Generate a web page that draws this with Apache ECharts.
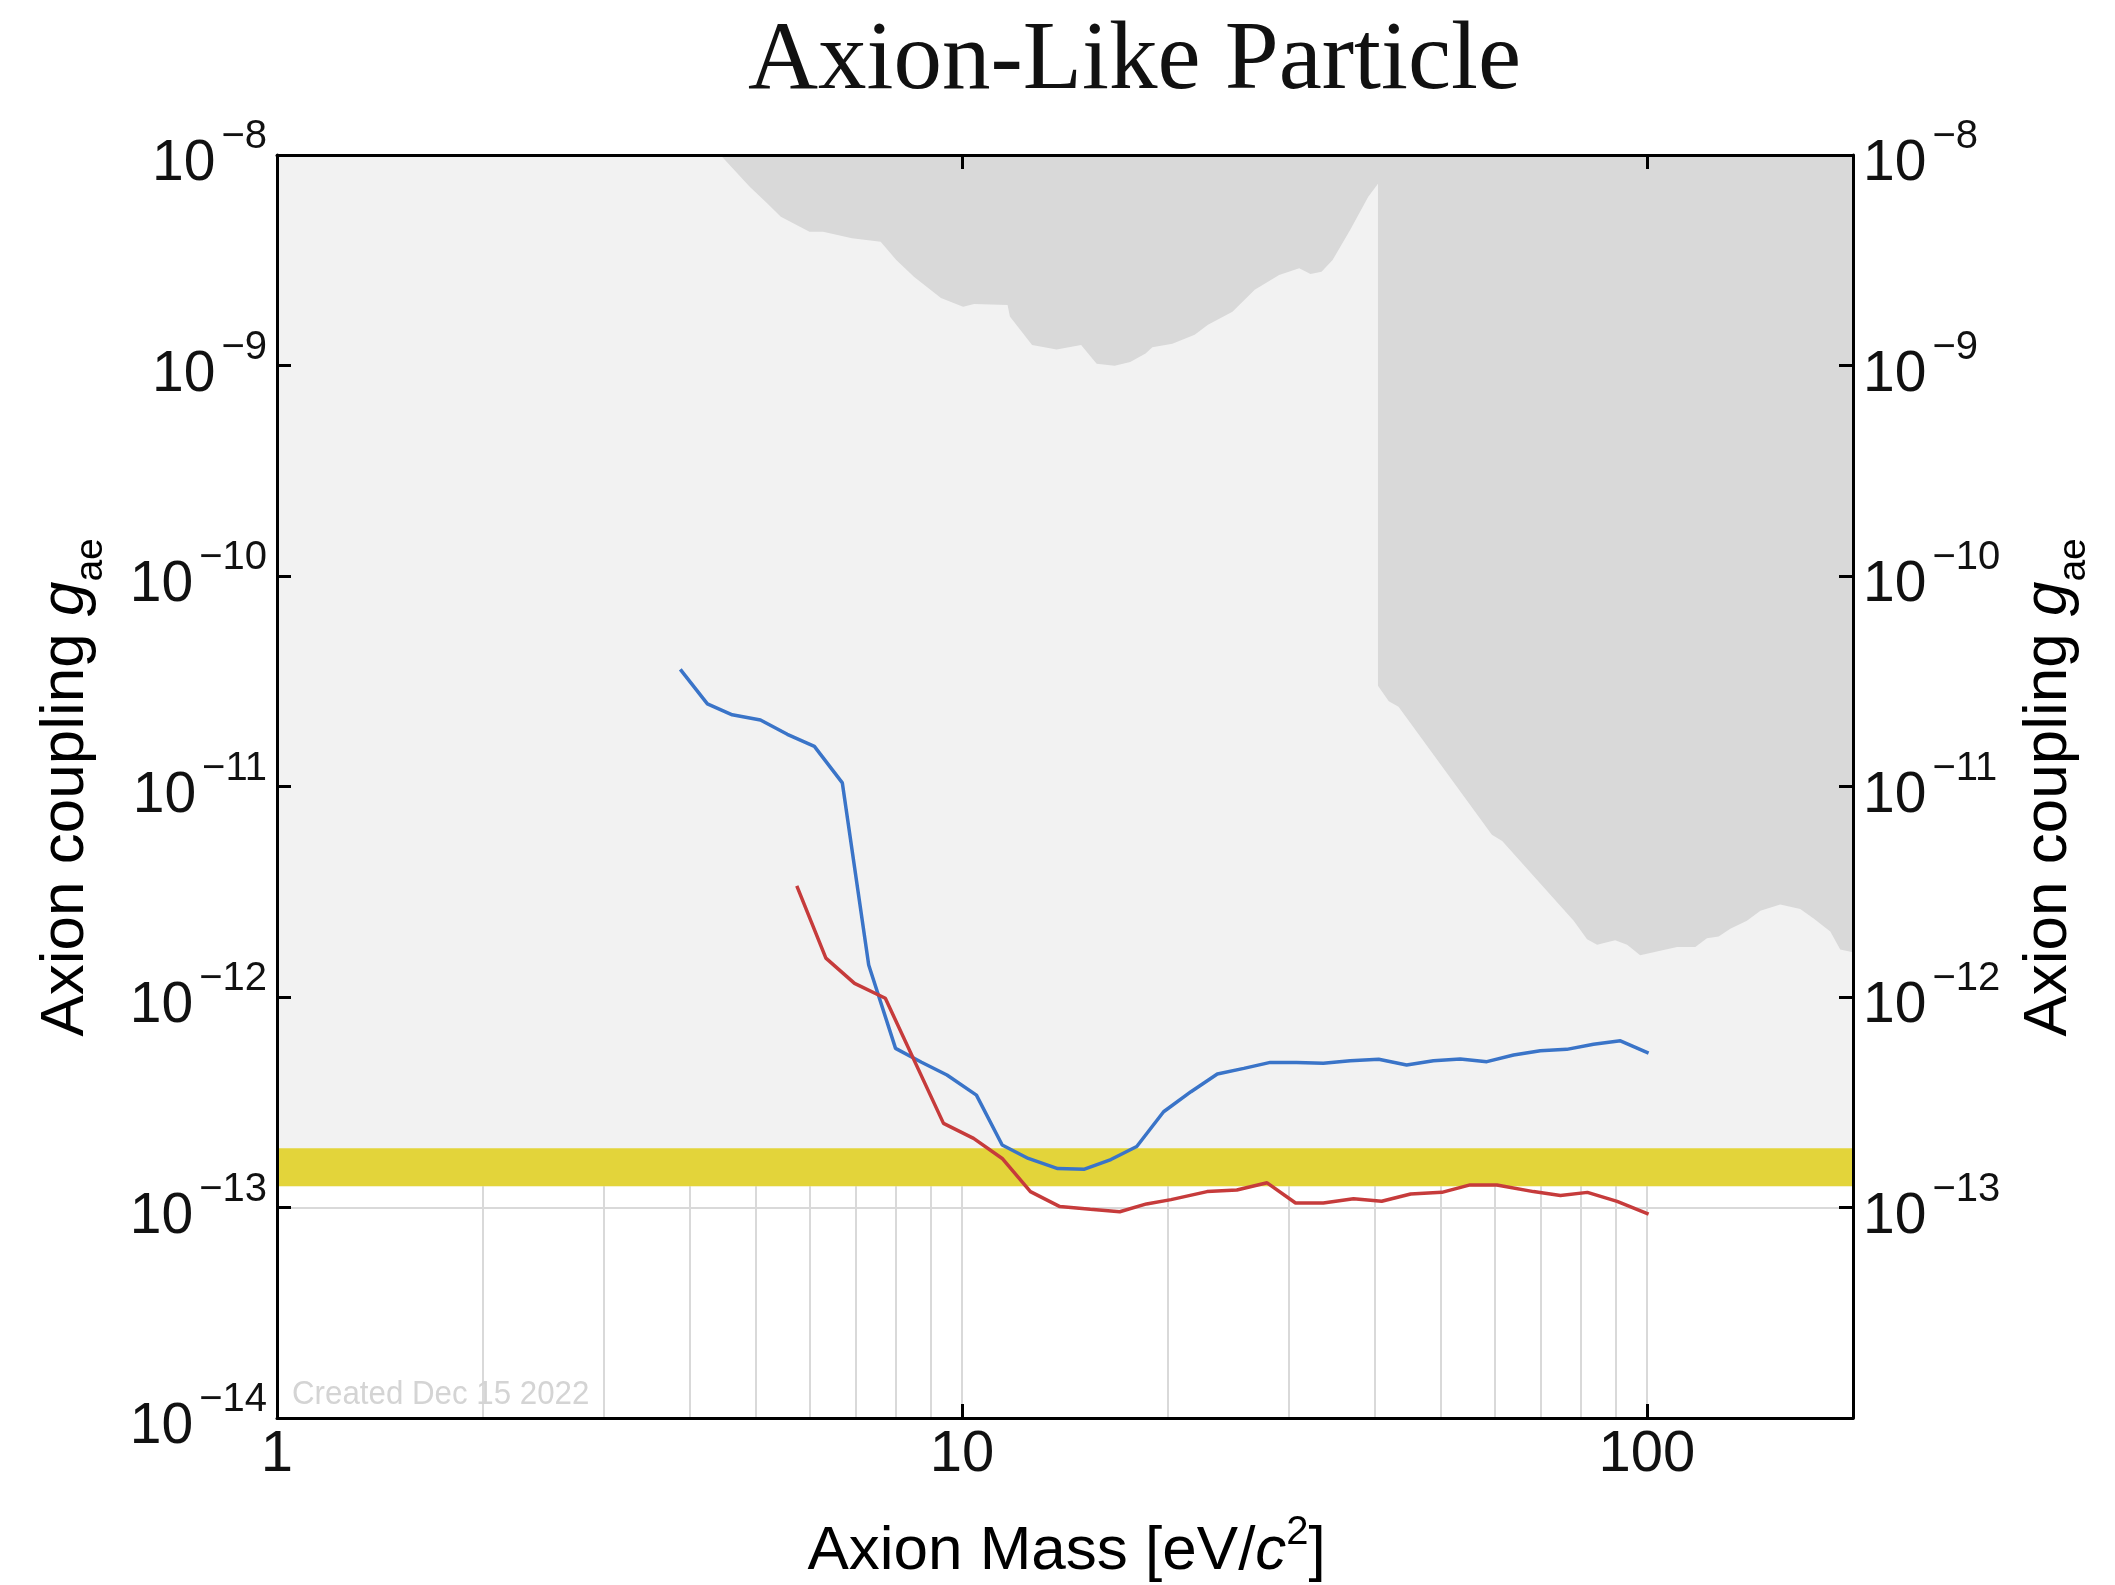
<!DOCTYPE html>
<html><head><meta charset="utf-8">
<script src="https://cdn.jsdelivr.net/npm/echarts@6/dist/echarts.min.js"></script>
<style>html,body{margin:0;padding:0;background:#fff}#c{width:2115px;height:1585px}</style>
</head><body><div id="c"></div>
<script>
// ---------- data (mass in eV/c^2, coupling g_ae) ----------
const massRange = [1, 200];
const couplingRange = [1e-14, 1e-8];
const massTickLabels = [1, 10, 100];
const gridMasses = [2, 3, 4, 5, 6, 7, 8, 9, 10, 20, 30, 40, 50, 60, 70, 80, 90, 100];
const yellowBand = [1.26e-13, 1.91e-13];
const lightRegionLow = 1.26e-13;

const blueLimit = [
  [3.88, 3.60e-11], [4.25, 2.47e-11], [4.62, 2.19e-11], [5.08, 2.07e-11], [5.56, 1.77e-11],
  [6.09, 1.55e-11], [6.69, 1.04e-11], [7.31, 1.42e-12], [8.0, 5.7e-13], [8.73, 4.9e-13],
  [9.51, 4.26e-13], [10.5, 3.42e-13], [11.45, 1.98e-13], [12.5, 1.71e-13], [13.8, 1.53e-13],
  [15.1, 1.52e-13], [16.5, 1.69e-13], [18.0, 1.95e-13], [19.7, 2.85e-13], [21.6, 3.55e-13],
  [23.6, 4.31e-13], [25.8, 4.58e-13], [28.2, 4.89e-13], [30.8, 4.88e-13], [33.7, 4.84e-13],
  [36.9, 4.98e-13], [40.6, 5.06e-13], [44.6, 4.75e-13], [48.8, 4.98e-13], [53.4, 5.07e-13],
  [58.4, 4.93e-13], [63.9, 5.30e-13], [69.9, 5.55e-13], [76.4, 5.64e-13], [83.6, 5.96e-13],
  [91.5, 6.19e-13], [100.6, 5.41e-13]
];

const redLimit = [
  [5.74, 3.37e-12], [6.33, 1.53e-12], [6.97, 1.16e-12], [7.73, 9.86e-13], [9.40, 2.51e-13],
  [10.4, 2.13e-13], [11.45, 1.71e-13], [12.59, 1.19e-13], [13.9, 1.01e-13], [15.4, 9.8e-14],
  [17.0, 9.55e-14], [18.6, 1.04e-13], [20.2, 1.09e-13], [22.8, 1.19e-13], [25.2, 1.21e-13],
  [27.9, 1.31e-13], [30.7, 1.05e-13], [33.7, 1.05e-13], [37.3, 1.10e-13], [41.0, 1.07e-13],
  [45.2, 1.16e-13], [50.2, 1.18e-13], [55.2, 1.28e-13], [60.4, 1.28e-13], [68.3, 1.19e-13],
  [74.8, 1.14e-13], [81.9, 1.18e-13], [90.5, 1.07e-13], [100.6, 9.3e-14]
];

// lower edge of the excluded region hanging from the top (left to right)
const darkTopEdge = [
  [4.44, 1e-8], [4.90, 7.07e-9], [5.20, 5.89e-9], [5.44, 5.09e-9], [5.99, 4.32e-9],
  [6.27, 4.32e-9], [6.91, 4.02e-9], [7.61, 3.87e-9], [8.02, 3.17e-9], [8.51, 2.64e-9],
  [9.32, 2.09e-9], [10.04, 1.90e-9], [10.42, 1.96e-9], [11.66, 1.94e-9], [11.75, 1.71e-9],
  [12.66, 1.25e-9], [13.75, 1.19e-9], [14.93, 1.25e-9], [15.73, 1.02e-9], [16.71, 9.96e-10],
  [17.61, 1.04e-9], [18.54, 1.14e-9], [18.97, 1.22e-9], [20.29, 1.27e-9], [21.87, 1.40e-9],
  [22.87, 1.56e-9], [24.83, 1.80e-9], [26.76, 2.29e-9], [29.05, 2.69e-9], [31.08, 2.90e-9],
  [32.28, 2.72e-9], [33.5, 2.79e-9], [34.77, 3.17e-9], [36.9, 4.41e-9], [39.2, 6.33e-9],
  [40.5, 7.3e-9]
];
// lower edge of the large excluded region on the right (left to right)
const darkRightEdge = [
  [40.5, 3.01e-11], [42.0, 2.54e-11], [43.4, 2.39e-11], [59.4, 5.90e-12], [61.5, 5.51e-12],
  [78.2, 2.30e-12], [81.8, 1.88e-12], [84.6, 1.77e-12], [89.9, 1.86e-12], [93.6, 1.77e-12],
  [97.8, 1.58e-12], [102.3, 1.63e-12], [110.7, 1.73e-12], [117.7, 1.73e-12], [122.4, 1.90e-12],
  [127.3, 1.94e-12], [132.4, 2.11e-12], [140.0, 2.30e-12], [146.5, 2.57e-12], [156.6, 2.75e-12],
  [167.5, 2.62e-12], [175.2, 2.36e-12], [185.3, 2.05e-12], [191.6, 1.68e-12], [200, 1.63e-12]
];

// ---------- build ----------
const xMin = massRange[0], xMax = massRange[1], yMin = couplingRange[0], yMax = couplingRange[1];
const lightPoly = [[xMin, lightRegionLow], [xMax, lightRegionLow], [xMax, yMax], [xMin, yMax]];
const yellowPoly = [[xMin, yellowBand[0]], [xMax, yellowBand[0]], [xMax, yellowBand[1]], [xMin, yellowBand[1]]];
const darkPoly = darkTopEdge.concat(darkRightEdge).concat([[xMax, yMax]]);

function polygonSeries(name, pts, color, z) {
  return {
    type: 'custom', name: name, z: z, silent: true, clip: true,
    xAxisIndex: 0, yAxisIndex: 0,
    data: pts, encode: { x: 0, y: 1 },
    renderItem: function (params, api) {
      if (params.dataIndex !== 0) return null;
      return { type: 'polygon', shape: { points: pts.map(function (p) { return api.coord(p); }) },
               style: { fill: color } };
    }
  };
}

const SANS = 'Liberation Sans';
const INK = '#111';
const GRIDC = '#d9d9d9';
const yRich = {
  b: { fontFamily: SANS, fontSize: 57, lineHeight: 76, verticalAlign: 'bottom', color: INK },
  s: { fontFamily: SANS, fontSize: 40, lineHeight: 40, verticalAlign: 'top', color: INK, padding: [0, 0, 0, 6] }
};
function yLabel(v, hideBottom) {
  const e = Math.round(Math.log10(v));
  if (hideBottom && e === Math.round(Math.log10(yMin))) return '';
  return '{b|10}{s|\u2212' + (-e) + '}';
}
const axisLine = { show: true, onZero: false, lineStyle: { color: '#000', width: 3 } };
const axisTick = { show: true, inside: true, length: 14, lineStyle: { color: '#000', width: 3 } };

const nameRich = {
  n: { fontFamily: SANS, fontSize: 62, lineHeight: 68, verticalAlign: 'top', color: INK },
  i: { fontFamily: SANS, fontSize: 62, lineHeight: 68, verticalAlign: 'top', fontStyle: 'italic', color: INK },
  sub: { fontFamily: SANS, fontSize: 39, lineHeight: 39, verticalAlign: 'bottom', color: INK },
  pad: { fontSize: 10, lineHeight: 76 }
};
const xNameRich = {
  n: { fontFamily: SANS, fontSize: 62, lineHeight: 62, verticalAlign: 'bottom', color: INK },
  i: { fontFamily: SANS, fontSize: 62, lineHeight: 62, verticalAlign: 'bottom', fontStyle: 'italic', color: INK },
  s: { fontFamily: SANS, fontSize: 40, lineHeight: 40, verticalAlign: 'middle', color: INK },
  pad: { fontSize: 10, lineHeight: 100 }
};

const chart = echarts.init(document.getElementById('c'), null, { renderer: 'canvas' });
chart.setOption({
  animation: false,
  backgroundColor: '#ffffff',
  title: {
    text: 'Axion-Like Particle', left: 743, top: 9,
    textStyle: { fontFamily: 'Liberation Serif', fontSize: 97, fontWeight: 'normal', color: INK }
  },
  grid: { left: 277, right: 262, top: 155, bottom: 167 },
  xAxis: [
    { type: 'log', logBase: 10, min: xMin, max: xMax, position: 'bottom', z: 5,
      axisLine: axisLine, axisTick: axisTick, splitLine: { show: false },
      axisLabel: { margin: 8, fontFamily: SANS, fontSize: 58, color: INK,
        formatter: function (v) { return massTickLabels.indexOf(Math.round(v)) >= 0 && Math.abs(v - Math.round(v)) < 1e-6 ? String(Math.round(v)) : ''; } } },
    { type: 'log', logBase: 10, min: xMin, max: xMax, position: 'top', z: 5,
      axisLine: axisLine, axisTick: axisTick, splitLine: { show: false }, axisLabel: { show: false } }
  ],
  yAxis: [
    { type: 'log', logBase: 10, min: yMin, max: yMax, position: 'left', splitNumber: 6, z: 5,
      axisLine: axisLine, axisTick: axisTick, splitLine: { show: false },
      axisLabel: { margin: 10, rich: yRich, formatter: function (v) { return yLabel(v, false); } } },
    { type: 'log', logBase: 10, min: yMin, max: yMax, position: 'right', splitNumber: 6, z: 5,
      axisLine: axisLine, axisTick: axisTick, splitLine: { show: false },
      axisLabel: { margin: 10, rich: yRich, formatter: function (v) { return yLabel(v, true); } } },
    { type: 'log', logBase: 10, min: yMin, max: yMax, position: 'left', splitNumber: 6, z: 0,
      axisLine: { show: false }, axisTick: { show: false }, axisLabel: { show: false },
      splitLine: { show: true, lineStyle: { color: GRIDC, width: 2 } } }
  ],
  graphic: [
    { type: 'text', x: 1068, y: 1533, z: 10, silent: true,
      style: { text: '{n|Axion Mass [eV/}{i|c}{s|2}{n|]}{pad| }', rich: xNameRich, align: 'center', verticalAlign: 'middle' } },
    { type: 'text', x: 73, y: 786, rotation: Math.PI / 2, z: 10, silent: true,
      style: { text: '{n|Axion coupling }{i|g}{sub|ae}{pad| }', rich: nameRich, align: 'center', verticalAlign: 'middle' } },
    { type: 'text', x: 2056, y: 786, rotation: Math.PI / 2, z: 10, silent: true,
      style: { text: '{n|Axion coupling }{i|g}{sub|ae}{pad| }', rich: nameRich, align: 'center', verticalAlign: 'middle' } },
    { type: 'text', x: 292, y: 1412, z: 10, silent: true, scaleX: 0.92,
      style: { text: 'Created Dec 15 2022', fontFamily: SANS, fontSize: 34,
               fill: '#d4d4d4', align: 'left', verticalAlign: 'bottom' } }
  ],
  series: [
    { type: 'line', name: 'grid', z: 1, silent: true, data: [], xAxisIndex: 0, yAxisIndex: 0,
      markLine: { silent: true, z: 1, symbol: ['none', 'none'], label: { show: false },
        lineStyle: { color: GRIDC, width: 2, type: 'solid' }, animation: false,
        data: gridMasses.map(function (m) { return { xAxis: m }; }) } },
    polygonSeries('lightRegion', lightPoly, '#f2f2f2', 2),
    polygonSeries('darkRegion', darkPoly, '#d9d9d9', 3),
    polygonSeries('yellowBand', yellowPoly, '#e3d43a', 4),
    { type: 'line', name: 'blue', z: 6, data: blueLimit, showSymbol: false, symbol: 'none',
      lineStyle: { color: '#3a74c8', width: 3.5 }, itemStyle: { color: '#3a74c8' } },
    { type: 'line', name: 'red', z: 6, data: redLimit, showSymbol: false, symbol: 'none',
      lineStyle: { color: '#c63b3b', width: 3.5 }, itemStyle: { color: '#c63b3b' } }
  ]
});
</script></body></html>
